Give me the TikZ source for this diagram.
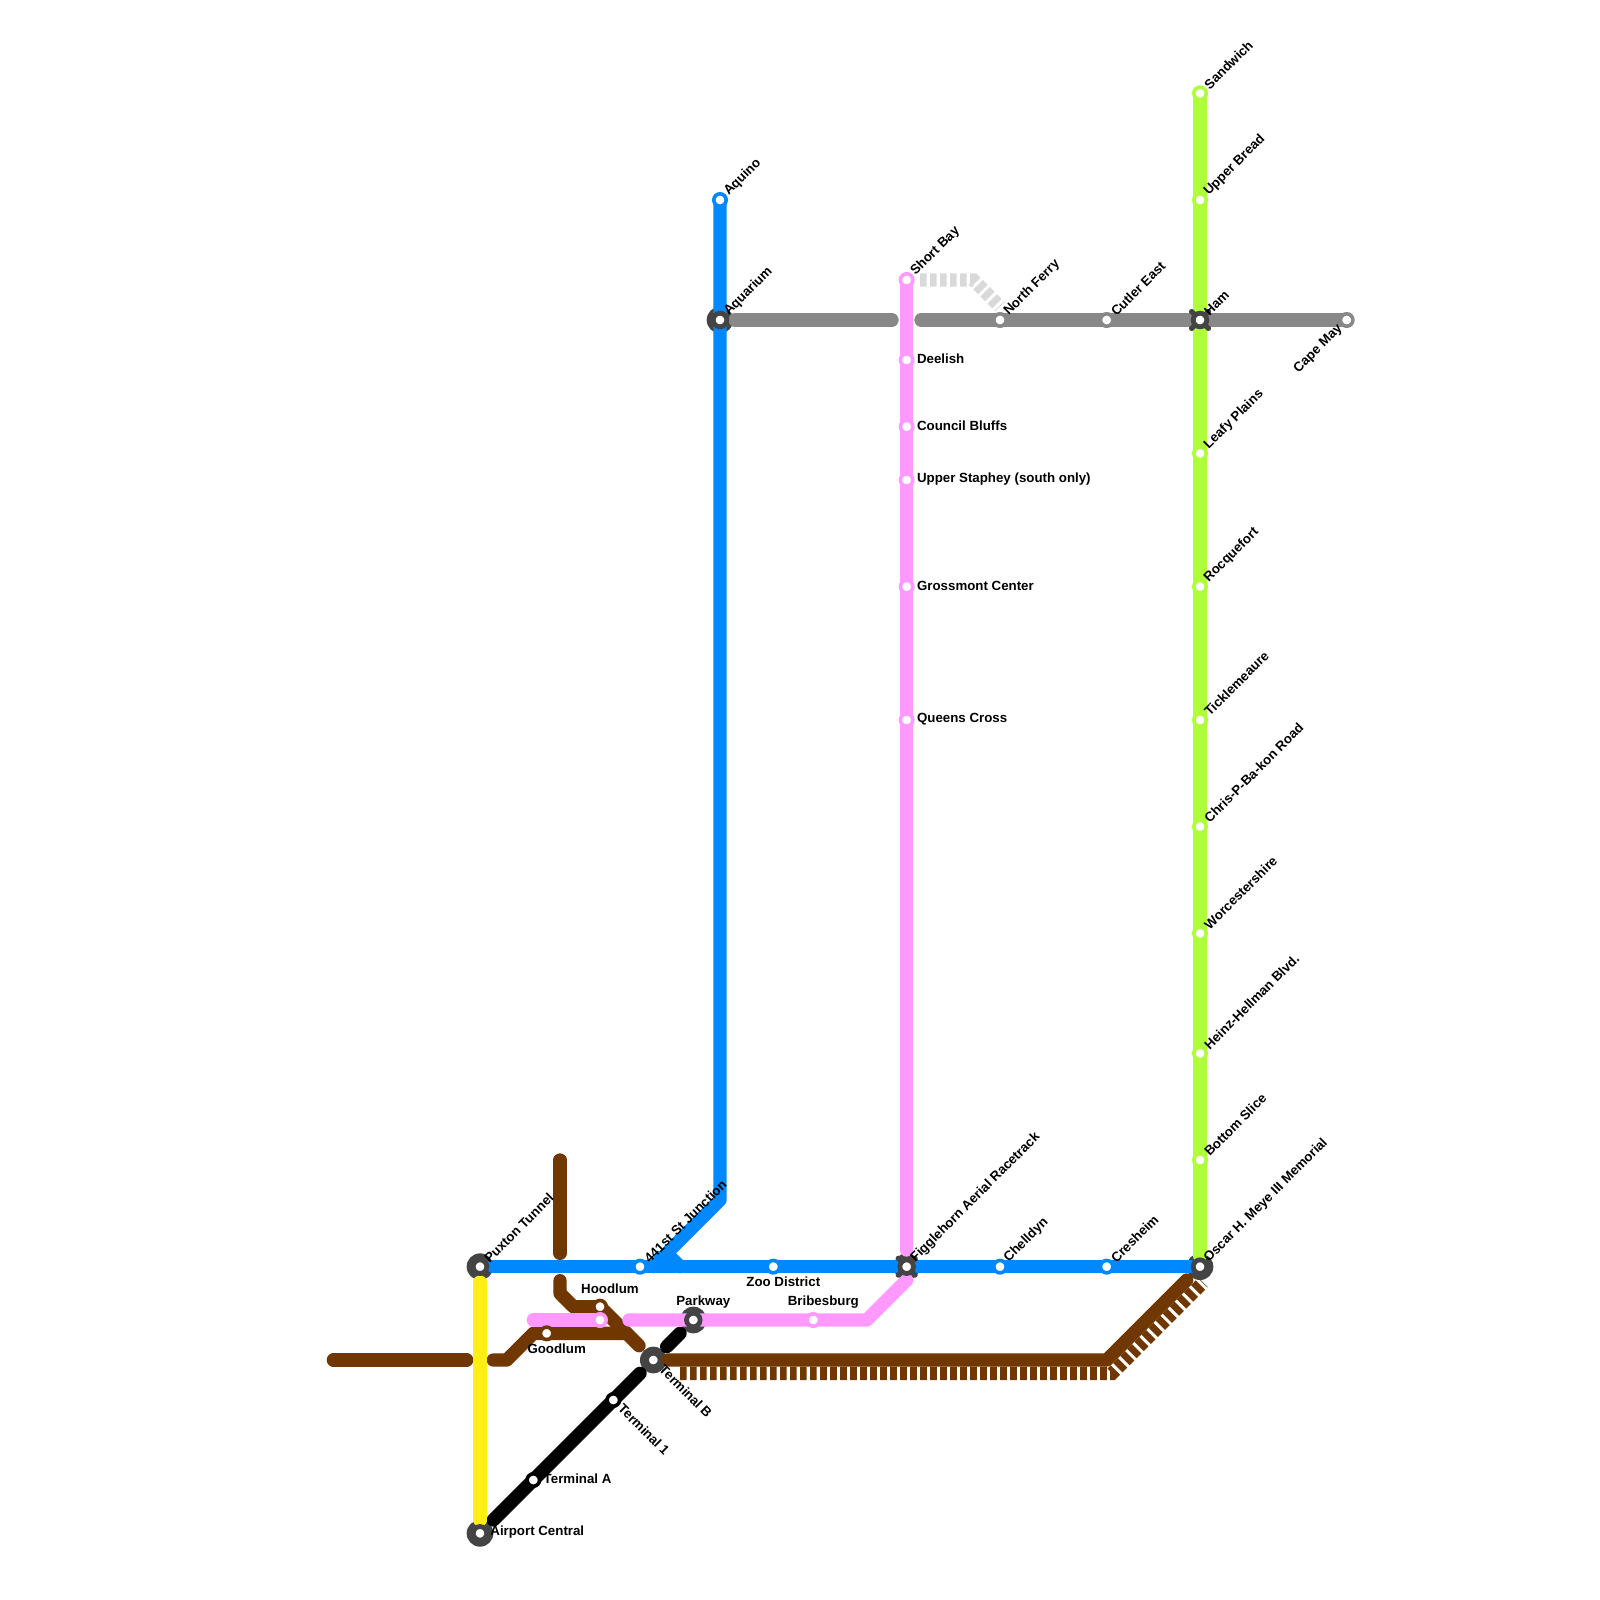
\documentclass[tikz,border=0pt]{standalone}
\usepackage{fontspec}
\setmainfont{Liberation Sans}
\usetikzlibrary{calc}
\definecolor{lineblue}{HTML}{0088FF}
\definecolor{linepink}{HTML}{FF99FF}
\definecolor{linegreen}{HTML}{AEFF3A}
\definecolor{linebrown}{HTML}{703800}
\definecolor{linegrey}{HTML}{888888}
\definecolor{lineyellow}{HTML}{FFEE11}
\definecolor{linepale}{HTML}{D9D9D9}
\definecolor{hubdark}{HTML}{444444}
\tikzset{
  route/.style={line width=.1333cm, line cap=round, line join=round},
  ticks/.style={line width=.1333cm, dash pattern=on .0667cm off .0333cm},
  stop/.style={circle, fill=white, draw=#1, line width=.036cm, minimum size=.124cm, inner sep=0pt, outer sep=0pt},
  hubbase/.style={circle, fill=hubdark, minimum size=.2667cm, inner sep=0pt, outer sep=0pt},
  hubstop/.style={circle, fill=white, draw=hubdark, line width=.048cm, minimum size=.136cm, inner sep=0pt, outer sep=0pt},
  hubcross/.style={hubdark, line width=.05cm, line cap=round},
  lab/.style={font=\fontsize{3.78}{4.5}\selectfont\bfseries, inner sep=0pt, text=black},
  labne/.style={lab, rotate=45, anchor=west},
  labse/.style={lab, rotate=-45, anchor=west},
  labr/.style={lab, anchor=west},
}
\begin{document}
\begin{tikzpicture}[x=.01cm, y=-.01cm]
\useasboundingbox (0,0) rectangle (1600,1600);

% hubs
\coordinate (Puxton) at (480,1266.67);
\coordinate (Airport) at (480,1533.33);
\coordinate (TermB) at (653.33,1360);
\coordinate (Parkway) at (693.33,1320);
\coordinate (Aquarium) at (720,320);
\coordinate (Figgle) at (906.67,1266.67);
\coordinate (Ham) at (1200,320);
\coordinate (Oscar) at (1200,1266.67);
\foreach \h in {Puxton,Airport,TermB,Parkway,Aquarium,Figgle,Ham,Oscar}
  \node[hubbase] (base\h) at (\h) {};

% brown with ticks
\draw[ticks, linebrown] (680,1373.33) -- (1112.19,1373.33) -- (1203,1282.5);
\draw[route, linebrown] (668,1360) -- (1106.67,1360) -- (1186.67,1280);
\draw[route, linebrown] (560,1160) -- (560,1253.33);
\draw[route, linebrown] (560,1280.67) -- (560,1293.33) -- (573.33,1306.67) -- (600,1306.67) -- (639,1345.67);
\draw[route, linebrown] (333.33,1360) -- (466.67,1360);
\draw[route, linebrown] (493.33,1360) -- (506.67,1360) -- (533.33,1333.33) -- (626.67,1333.33);

% pale
\draw[ticks, linepale] (920,280) -- (973.33,280) -- (1000,306.67);

% grey
\draw[route, linegrey] (735,320) -- (892,320);
\draw[route, linegrey] (921,320) -- (1346.67,320);

% black
\draw[route, black] (493.33,1520) -- (640,1373.33);
\draw[route, black] (666.67,1346.67) -- (680,1333.33);

% yellow
\draw[route, lineyellow] (480,1282) -- (480,1520);

% pink
\draw[route, linepink] (906.67,280) -- (906.67,1250);
\draw[route, linepink] (533.33,1320) -- (600,1320);
\draw[route, linepink] (629,1320) -- (866.67,1320) -- (906.67,1280);

% blue
\draw[route, lineblue] (720,200) -- (720,1200) -- (653.33,1266.67);
\draw[route, lineblue] (666.67,1253.33) -- (680,1266.67);
\draw[route, lineblue] (493.33,1266.67) -- (1190,1266.67);

% green
\draw[route, linegreen] (1200,93.33) -- (1200,1256);

% crossings
\foreach \h in {Figgle,Ham} {
  \draw[hubcross] ($(\h)+(-8.5,-8.5)$) -- ($(\h)+(8.5,8.5)$);
  \draw[hubcross] ($(\h)+(-8.5,8.5)$) -- ($(\h)+(8.5,-8.5)$);
}

% hubs on top
\foreach \h in {Puxton,Airport,TermB,Parkway,Aquarium,Figgle,Ham,Oscar}
  \node[hubstop] (stop\h) at (\h) {};

% stops
\node[stop=lineblue] (Aquino) at (720,200) {};
\node[stop=lineblue] (Junction) at (640,1266.67) {};
\node[stop=lineblue] (Zoo) at (773.33,1266.67) {};
\node[stop=lineblue] (Chelldyn) at (1000,1266.67) {};
\node[stop=lineblue] (Cresheim) at (1106.67,1266.67) {};
\node[stop=linegrey] (NorthFerry) at (1000,320) {};
\node[stop=linegrey] (Cutler) at (1106.67,320) {};
\node[stop=linegrey] (CapeMay) at (1346.67,320) {};
\node[stop=linebrown] (Hoodlum) at (600,1306.67) {};
\node[stop=linebrown] (Goodlum) at (546.67,1333.33) {};
\node[stop=linepink] (HoodlumP) at (600,1320) {};
\node[stop=linepink] (Bribesburg) at (813.33,1320) {};
\node[stop=black] (TermA) at (533.33,1480) {};
\node[stop=black] (TermOne) at (613.33,1400) {};
\foreach \n/\y in {ShortBay/280,Deelish/360,Council/426.67,Staphey/480,Grossmont/586.67,Queens/720}
  \node[stop=linepink] (\n) at (906.67,\y) {};
\foreach \n/\y in {Sandwich/93.33,UpperBread/200,Leafy/453.33,Rocquefort/586.67,Tickle/720,Chris/826.67,Worcester/933.33,Heinz/1053.33,BottomSlice/1160}
  \node[stop=linegreen] (\n) at (1200,\y) {};

% labels
\foreach \n/\t in {Aquino/Aquino,Aquarium/Aquarium,ShortBay/Short Bay,NorthFerry/North Ferry,Cutler/Cutler East,Ham/Ham,
    Sandwich/Sandwich,UpperBread/Upper Bread,Leafy/Leafy Plains,Rocquefort/Rocquefort,Tickle/Ticklemeaure,Chris/Chris-P-Ba-kon Road,
    Worcester/Worcestershire,Heinz/Heinz-Hellman Blvd.,BottomSlice/Bottom Slice,Oscar/Oscar H. Meye III Memorial,
    Cresheim/Cresheim,Chelldyn/Chelldyn,Figgle/Figglehorn Aerial Racetrack,Junction/441st St Junction,Puxton/Puxton Tunnel}
  \node[labne] (lab\n) at ($(\n)+(6,-6)$) {\t};
\foreach \n/\t in {Deelish/Deelish,Council/Council Bluffs,Staphey/Upper Staphey (south only),Grossmont/Grossmont Center,Queens/Queens Cross,TermA/Terminal A,Airport/Airport Central}
  \node[labr] (lab\n) at ($(\n)+(9.7,-1)$) {\t};
\node[labse] (labTermB) at ($(TermB)+(8,7)$) {Terminal B};
\node[labse] (labTermOne) at ($(TermOne)+(7,6)$) {Terminal 1};
\node[lab, rotate=45, anchor=east] (labCapeMay) at ($(CapeMay)+(-6,6.5)$) {Cape May};
\node[lab] (labHoodlum) at (610,1288.33) {Hoodlum};
\node[lab] (labParkway) at (703.33,1301.67) {Parkway};
\node[lab] (labBribesburg) at (823.33,1301.67) {Bribesburg};
\node[lab] (labZoo) at (783.33,1281.67) {Zoo District};
\node[lab] (labGoodlum) at (556.67,1349) {Goodlum};
\end{tikzpicture}
\end{document}
